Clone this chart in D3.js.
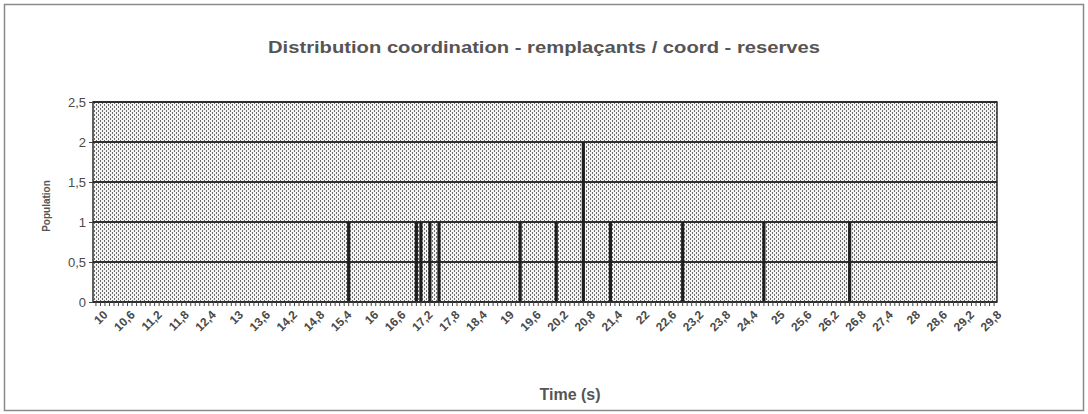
<!DOCTYPE html>
<html>
<head>
<meta charset="utf-8">
<script src="https://cdn.jsdelivr.net/npm/d3@7"></script>
<style>
  body { margin: 0; background: #fff; }
  svg { display: block; }
  text { font-family: "Liberation Sans", Arial, sans-serif; }
</style>
</head>
<body>
<svg id="chart"></svg>
<script>
// categories of the x axis: 10,0 .. 29,9 by 0,1 s
var categories = d3.range(100, 300).map(function(d) { return (d / 10).toFixed(1); });

// events (time in s, population)
var eventTimes  = ["15.6", "17.1", "17.2", "17.4", "17.6", "19.4", "20.2", "20.8", "21.4", "23.0", "24.8", "26.7"];
var eventCounts = [1, 1, 1, 1, 1, 1, 1, 2, 1, 1, 1, 1];

// labelled categories (every 6th)
var tickLabels = ["10.0", "10.6", "11.2", "11.8", "12.4", "13.0", "13.6", "14.2", "14.8", "15.4",
                  "16.0", "16.6", "17.2", "17.8", "18.4", "19.0", "19.6", "20.2", "20.8", "21.4",
                  "22.0", "22.6", "23.2", "23.8", "24.4", "25.0", "25.6", "26.2", "26.8", "27.4",
                  "28.0", "28.6", "29.2", "29.8"];

var yTicks = [0, 0.5, 1, 1.5, 2, 2.5];

var W = 1088, H = 414;
var margin = {top: 102, right: 91, bottom: 112, left: 93},
    width = W - margin.left - margin.right,
    height = H - margin.top - margin.bottom;

var svg = d3.select("#chart").attr("width", W).attr("height", H);

// outer frame
svg.append("rect")
    .attr("x", 4.5).attr("y", 4.5)
    .attr("width", W - 9).attr("height", H - 8)
    .attr("fill", "none")
    .attr("stroke", "#8a8a8a")
    .attr("stroke-width", 1.5);

// dotted fill like the printed excel chart
var defs = svg.append("defs");
var pat = defs.append("pattern")
    .attr("id", "dots")
    .attr("patternUnits", "userSpaceOnUse")
    .attr("width", 4).attr("height", 4);
pat.append("rect").attr("width", 4).attr("height", 4).attr("fill", "#f4f4f4");
pat.append("rect").attr("x", 1).attr("y", 0).attr("width", 1).attr("height", 2).attr("fill", "#6a6a6a");
pat.append("rect").attr("x", 3).attr("y", 2).attr("width", 1).attr("height", 2).attr("fill", "#6a6a6a");

var x = d3.scaleBand()
    .domain(categories)
    .range([0, width])
    .padding(0.3);

var y = d3.scaleLinear()
    .domain([0, 2.5])
    .range([height, 0]);

var g = svg.append("g")
    .attr("transform", "translate(" + margin.left + "," + margin.top + ")");

g.append("rect")
    .attr("width", width).attr("height", height)
    .attr("fill", "url(#dots)");

// horizontal gridlines
g.selectAll(".grid")
    .data(yTicks)
  .enter().append("line")
    .attr("class", "grid")
    .attr("x1", 0).attr("x2", width)
    .attr("y1", function(d) { return y(d); })
    .attr("y2", function(d) { return y(d); })
    .attr("stroke", "#2e2e2e")
    .attr("stroke-width", 2);

// bars
var events = eventTimes.map(function(t, i) { return {t: t, v: eventCounts[i]}; });
g.selectAll(".bar")
    .data(events)
  .enter().append("rect")
    .attr("class", "bar")
    .attr("x", function(d) { return x(d.t); })
    .attr("width", x.bandwidth())
    .attr("y", function(d) { return y(d.v); })
    .attr("height", function(d) { return height - y(d.v); })
    .attr("fill", "#1e1e1e");

// plot border
g.append("rect")
    .attr("width", width).attr("height", height)
    .attr("fill", "none")
    .attr("stroke", "#2e2e2e")
    .attr("stroke-width", 1.5);

// x axis
var xAxis = d3.axisBottom(x)
    .tickSize(4)
    .tickFormat(function(d) { return tickLabels.indexOf(d) >= 0 ? (+d).toString().replace(".", ",") : ""; });

var xg = g.append("g")
    .attr("transform", "translate(0," + height + ")")
    .call(xAxis);
xg.select(".domain").remove();
xg.selectAll(".tick line").attr("stroke", "#444");
xg.selectAll(".tick text")
    .attr("fill", "#4a4a4a")
    .style("font-size", "12px")
    .style("font-weight", "bold")
    .attr("text-anchor", "end")
    .attr("dx", "0.3em")
    .attr("dy", "0.6em")
    .attr("transform", "translate(0,6) rotate(-45)");

// y axis
var yg = g.append("g")
    .call(d3.axisLeft(y)
      .tickValues(yTicks)
      .tickSize(4)
      .tickFormat(function(d) { return d.toString().replace(".", ","); }));
yg.select(".domain").remove();
yg.selectAll(".tick line").attr("stroke", "#444");
yg.selectAll(".tick text")
    .attr("fill", "#4a4a4a")
    .style("font-size", "13px");

// title
svg.append("text")
    .attr("x", 544).attr("y", 53)
    .attr("text-anchor", "middle")
    .attr("fill", "#555")
    .attr("textLength", 552)
    .attr("lengthAdjust", "spacingAndGlyphs")
    .style("font-size", "17px")
    .style("font-weight", "bold")
    .text("Distribution coordination - remplaçants / coord - reserves");

// axis titles
svg.append("text")
    .attr("x", 570).attr("y", 400)
    .attr("text-anchor", "middle")
    .attr("fill", "#555")
    .style("font-size", "16px")
    .style("font-weight", "bold")
    .text("Time (s)");

svg.append("text")
    .attr("transform", "translate(50,206) rotate(-90)")
    .attr("text-anchor", "middle")
    .attr("fill", "#555")
    .style("font-size", "10px")
    .style("font-weight", "bold")
    .text("Population");
</script>
</body>
</html>
